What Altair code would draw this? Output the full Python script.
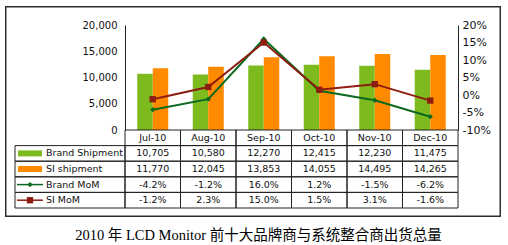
import altair as alt
import pandas as pd

categories = ["Jul-10", "Aug-10", "Sep-10", "Oct-10", "Nov-10", "Dec-10"]
brand_shipment = [10705, 10580, 12270, 12415, 12230, 11475]
si_shipment = [11770, 12045, 13853, 14055, 14495, 14265]
brand_mom = [-4.2, -1.2, 16.0, 1.2, -1.5, -6.2]
si_mom = [-1.2, 2.3, 15.0, 1.5, 3.1, -1.6]
bar_series = ["Brand Shipment", "SI shipment"]
line_series = ["Brand MoM", "SI MoM"]
left_ticks = [0, 5000, 10000, 15000, 20000]
right_ticks = [-10, -5, 0, 5, 10, 15, 20]
caption = "2010 年 LCD Monitor 前十大品牌商与系统整合商出货总量"

FONT = "DejaVu Sans"
series_all = bar_series + line_series
colors = ["#7dba1e", "#ff8a00", "#0b6a20", "#8c1d10"]
color_scale = alt.Scale(domain=series_all, range=colors)
shape_scale = alt.Scale(domain=line_series, range=["diamond", "square"])
size_scale = alt.Scale(domain=line_series, range=[28, 40])

bars_df = pd.DataFrame({
    "cat": categories * 2,
    "series": [bar_series[0]] * len(categories) + [bar_series[1]] * len(categories),
    "value": brand_shipment + si_shipment,
})
lines_df = pd.DataFrame({
    "cat": categories * 2,
    "series": [line_series[0]] * len(categories) + [line_series[1]] * len(categories),
    "mom": brand_mom + si_mom,
})

rows = []
for c in categories:
    rows.append({"row": "header", "cat": c, "text": c})
for c, v in zip(categories, brand_shipment):
    rows.append({"row": bar_series[0], "cat": c, "text": f"{v:,}"})
for c, v in zip(categories, si_shipment):
    rows.append({"row": bar_series[1], "cat": c, "text": f"{v:,}"})
for c, v in zip(categories, brand_mom):
    rows.append({"row": line_series[0], "cat": c, "text": f"{v:.1f}%"})
for c, v in zip(categories, si_mom):
    rows.append({"row": line_series[1], "cat": c, "text": f"{v:.1f}%"})
table_df = pd.DataFrame(rows)
labels_df = pd.DataFrame({"row": series_all})

xscale = alt.Scale(domain=categories, paddingInner=0, paddingOuter=0)
x_band = alt.X("cat:N", scale=xscale, axis=None)
x_mid = alt.X("cat:N", scale=xscale, axis=None, bandPosition=0.5)

bars = alt.Chart(bars_df).mark_bar().encode(
    x=x_band,
    xOffset=alt.XOffset("series:N", scale=alt.Scale(domain=bar_series, paddingInner=0, paddingOuter=0.79)),
    y=alt.Y("value:Q",
            scale=alt.Scale(domain=[0, 20000], range=[105, 0], nice=False, zero=True),
            axis=alt.Axis(orient="left", values=left_ticks, labelExpr="format(datum.value, ',')",
                          ticks=False, labelPadding=8, grid=False,
                          domainColor="#222", labelFont=FONT, labelFontSize=10, labelColor="#111",
                          title=None)),
    color=alt.Color("series:N", scale=color_scale, legend=None),
)

y_mom = alt.Y("mom:Q",
              scale=alt.Scale(domain=[-10, 20], range=[105, 0], nice=False, zero=False),
              axis=alt.Axis(orient="right", values=right_ticks, labelExpr="datum.value + '%'",
                            ticks=False, labelPadding=4, grid=False, domainColor="#222",
                            labelFont=FONT, labelFontSize=11, labelColor="#111", title=None))
line = alt.Chart(lines_df).mark_line(strokeWidth=2).encode(
    x=x_mid, y=y_mom,
    color=alt.Color("series:N", scale=color_scale, legend=None),
)
pts = alt.Chart(lines_df).mark_point(filled=True, opacity=1).encode(
    x=x_mid, y=y_mom,
    color=alt.Color("series:N", scale=color_scale, legend=None),
    shape=alt.Shape("series:N", scale=shape_scale, legend=None),
    size=alt.Size("series:N", scale=size_scale, legend=None),
)

tbl_rows = ["header"] + series_all
tscale = alt.Scale(domain=tbl_rows, range=[105, 183], paddingInner=0, paddingOuter=0)
ty_band = alt.Y("row:N", scale=tscale, axis=None)
ty_mid = alt.Y("row:N", scale=tscale, axis=None, bandPosition=0.5)

one = pd.DataFrame({"k": [0]})
FRAME = "#2e2e2e"
f_top = alt.Chart(one).mark_rect(fill=FRAME).encode(
    x=alt.value(-120), x2=alt.value(376), y=alt.value(-19), y2=alt.value(-17.5))
f_bot = alt.Chart(one).mark_rect(fill=FRAME).encode(
    x=alt.value(-120), x2=alt.value(376), y=alt.value(190.5), y2=alt.value(192))
f_lft = alt.Chart(one).mark_rect(fill=FRAME).encode(
    x=alt.value(-120), x2=alt.value(-118.5), y=alt.value(-19), y2=alt.value(192))
f_rgt = alt.Chart(one).mark_rect(fill=FRAME).encode(
    x=alt.value(374.5), x2=alt.value(376), y=alt.value(-19), y2=alt.value(192))

cells = alt.Chart(table_df).mark_rect(fill="transparent", stroke="#222", strokeWidth=1).encode(
    x=x_band, y=ty_band)
texts = alt.Chart(table_df).mark_text(font=FONT, fontSize=9.5, color="#111").encode(
    x=x_mid, y=ty_mid, text="text:N")
lcells = alt.Chart(labels_df).mark_rect(fill="transparent", stroke="#222", strokeWidth=1).encode(
    x=alt.value(-110), x2=alt.value(0), y=ty_band)
labels = alt.Chart(labels_df).mark_text(font=FONT, fontSize=9.5, color="#111", align="left").encode(
    x=alt.value(-79), y=ty_mid, text="row:N")
sw = alt.Chart(labels_df).transform_filter(
    alt.FieldOneOfPredicate(field="row", oneOf=bar_series)
).mark_rule(strokeWidth=6).encode(
    x=alt.value(-107), x2=alt.value(-83), y=ty_mid,
    color=alt.Color("row:N", scale=color_scale, legend=None))
lsw = alt.Chart(labels_df).transform_filter(
    alt.FieldOneOfPredicate(field="row", oneOf=line_series)
).mark_rule(strokeWidth=1.5).encode(
    x=alt.value(-108), x2=alt.value(-82), y=ty_mid,
    color=alt.Color("row:N", scale=color_scale, legend=None))
lpts = alt.Chart(labels_df).transform_filter(
    alt.FieldOneOfPredicate(field="row", oneOf=line_series)
).mark_point(filled=True, opacity=1).encode(
    x=alt.value(-95), y=ty_mid,
    color=alt.Color("row:N", scale=color_scale, legend=None),
    shape=alt.Shape("row:N", scale=shape_scale, legend=None),
    size=alt.Size("row:N", scale=size_scale, legend=None))

chart = alt.layer(
    bars,
    alt.layer(line, pts),
    alt.layer(cells, texts, lcells, labels, sw, lsw, lpts),
    f_top, f_bot, f_lft, f_rgt,
).resolve_scale(y="independent").properties(
    width=333, height=183,
    title=alt.TitleParams(caption, orient="bottom", font="Liberation Serif, Noto Sans CJK SC",
                          fontSize=14.5, fontWeight="normal", color="#000", offset=12,
                          anchor="middle", dx=-33),
    padding={"left": 5, "top": 6, "right": 6, "bottom": 1},
    background="white",
).configure_view(stroke="transparent")

chart.save("out.html", embed_options={"renderer": "svg", "actions": False})
